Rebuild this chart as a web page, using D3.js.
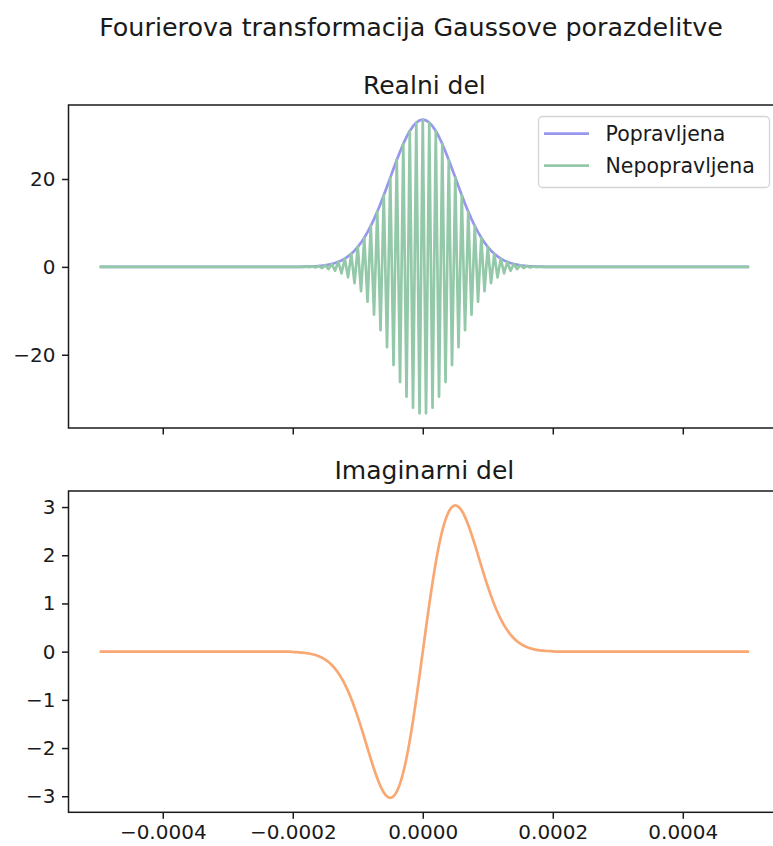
<!DOCTYPE html>
<html>
<head>
<meta charset="utf-8">
<script src="https://cdn.jsdelivr.net/npm/d3@7"></script>
<style>
  body { margin: 0; background: #ffffff; }
  svg { display: block; }
  text { font-family: "DejaVu Sans", sans-serif; fill: #1a1a1a; }
</style>
</head>
<body>
<svg id="chart" width="773" height="846"></svg>
<script>
// Frequency grid: 200 samples from -0.000495 to 0.0005
const freqStart = -0.000495;
const freqStep = 0.000005;

const zeros59 = [
  0,0,0,0,0,0,0,0,0,0,0,0,0,0,0,0,0,0,0,0,
  0,0,0,0,0,0,0,0,0,0,0,0,0,0,0,0,0,0,0,0,
  0,0,0,0,0,0,0,0,0,0,0,0,0,0,0,0,0,0,0
];
const zeros60 = [
  0,0,0,0,0,0,0,0,0,0,0,0,0,0,0,0,0,0,0,0,
  0,0,0,0,0,0,0,0,0,0,0,0,0,0,0,0,0,0,0,0,
  0,0,0,0,0,0,0,0,0,0,0,0,0,0,0,0,0,0,0,0
];

// Real part, corrected transform (Popravljena)
const realCorrected = [].concat(zeros59, [
  0.01,0.02,0.02,0.04,0.05,0.07,0.10,0.14,0.20,0.27,
  0.37,0.50,0.66,0.88,1.14,1.47,1.88,2.38,2.98,3.69,
  4.53,5.51,6.63,7.90,9.31,10.88,12.57,14.39,16.31,18.29,
  20.32,22.34,24.33,26.22,27.98,29.56,30.92,32.03,32.84,33.33,
  33.50,
  33.33,32.84,32.03,30.92,29.56,27.98,26.22,24.33,22.34,20.32,
  18.29,16.31,14.39,12.57,10.88,9.31,7.90,6.63,5.51,4.53,
  3.69,2.98,2.38,1.88,1.47,1.14,0.88,0.66,0.50,0.37,
  0.27,0.20,0.14,0.10,0.07,0.05,0.04,0.02,0.02,0.01
], zeros60);

// Real part, uncorrected transform (Nepopravljena)
const realUncorrected = [].concat(zeros59, [
  0.01,-0.02,0.02,-0.04,0.05,-0.07,0.10,-0.14,0.20,-0.27,
  0.37,-0.50,0.66,-0.88,1.14,-1.47,1.88,-2.38,2.98,-3.69,
  4.53,-5.51,6.63,-7.90,9.31,-10.88,12.57,-14.39,16.31,-18.29,
  20.32,-22.34,24.33,-26.22,27.98,-29.56,30.92,-32.03,32.84,-33.33,
  33.50,
  -33.33,32.84,-32.03,30.92,-29.56,27.98,-26.22,24.33,-22.34,20.32,
  -18.29,16.31,-14.39,12.57,-10.88,9.31,-7.90,6.63,-5.51,4.53,
  -3.69,2.98,-2.38,1.88,-1.47,1.14,-0.88,0.66,-0.50,0.37,
  -0.27,0.20,-0.14,0.10,-0.07,0.05,-0.04,0.02,-0.02,0.01
], zeros60);

// Imaginary part
const imagPart = [].concat(zeros59, [
  -0.007,-0.010,-0.014,-0.020,-0.028,-0.038,-0.053,-0.071,-0.096,-0.127,
  -0.167,-0.216,-0.278,-0.353,-0.443,-0.549,-0.674,-0.817,-0.978,-1.158,
  -1.353,-1.562,-1.781,-2.004,-2.224,-2.435,-2.627,-2.792,-2.921,-3.003,
  -3.033,-3.001,-2.905,-2.739,-2.506,-2.206,-1.846,-1.434,-0.980,-0.498,
  0,
  0.498,0.980,1.434,1.846,2.206,2.506,2.739,2.905,3.001,3.033,
  3.003,2.921,2.792,2.627,2.435,2.224,2.004,1.781,1.562,1.353,
  1.158,0.978,0.817,0.674,0.549,0.443,0.353,0.278,0.216,0.167,
  0.127,0.096,0.071,0.053,0.038,0.028,0.020,0.014,0.010,0.007
], zeros60);

const xTicks = [-0.0004, -0.0002, 0, 0.0002, 0.0004];
const realTicks = [-20, 0, 20];
const imagTicks = [-3, -2, -1, 0, 1, 2, 3];
const legendLabels = ["Popravljena", "Nepopravljena"];

const colors = { corrected: "#9797ee", uncorrected: "#93c9a9", imag: "#f9a873" };

const svg = d3.select("#chart");
const plotLeft = 68.5, plotRight = 780.3;
const topPanel = { top: 105, bottom: 428 };
const botPanel = { top: 491, bottom: 812.3 };

const x = d3.scaleLinear().domain([-0.000545, 0.00055]).range([plotLeft, plotRight]);
const yReal = d3.scaleLinear().domain([-36.67, 36.84]).range([topPanel.bottom, topPanel.top]);
const yImag = d3.scaleLinear().domain([-3.333, 3.333]).range([botPanel.bottom, botPanel.top]);

const freqAt = i => freqStart + i * freqStep;

function styleAxis(g) {
  g.select(".domain").remove();
  g.attr("font-family", "DejaVu Sans, sans-serif").attr("font-size", 20);
  g.selectAll(".tick line").attr("stroke", "#1a1a1a").attr("stroke-width", 1.5);
  g.selectAll(".tick text").attr("fill", "#1a1a1a");
}

function frame(panel) {
  svg.append("rect")
    .attr("x", plotLeft).attr("y", panel.top)
    .attr("width", plotRight - plotLeft).attr("height", panel.bottom - panel.top)
    .attr("fill", "none").attr("stroke", "#1a1a1a").attr("stroke-width", 1.5);
}

function seriesPath(values, yScale, color, curve) {
  const line = d3.line().x((d, i) => x(freqAt(i))).y(d => yScale(d));
  if (curve) line.curve(curve);
  svg.append("path")
    .datum(values)
    .attr("fill", "none")
    .attr("stroke", color)
    .attr("stroke-width", 2.7)
    .attr("stroke-linejoin", "round")
    .attr("stroke-linecap", "square")
    .attr("d", line);
}

// ---- Top panel: real part ----
seriesPath(realCorrected, yReal, colors.corrected);
seriesPath(realUncorrected, yReal, colors.uncorrected);

frame(topPanel);

svg.append("g")
  .attr("transform", `translate(${plotLeft},0)`)
  .call(d3.axisLeft(yReal).tickValues(realTicks).tickSize(6.5).tickPadding(6.5).tickFormat(d3.format("d")))
  .call(styleAxis);

svg.append("g")
  .attr("transform", `translate(0,${topPanel.bottom})`)
  .call(d3.axisBottom(x).tickValues(xTicks).tickSize(6.5).tickFormat(""))
  .call(styleAxis);

svg.append("text")
  .attr("x", (plotLeft + plotRight) / 2).attr("y", topPanel.top - 11)
  .attr("text-anchor", "middle").attr("font-size", 25)
  .text("Realni del");

// Legend
const legend = svg.append("g");
legend.append("rect")
  .attr("x", 538.5).attr("y", 116.5).attr("width", 231).attr("height", 71)
  .attr("rx", 4).attr("fill", "#ffffff").attr("fill-opacity", 0.8)
  .attr("stroke", "#d4d4d4").attr("stroke-width", 1.3);
[colors.corrected, colors.uncorrected].forEach((c, i) => {
  const cy = 133.7 + i * 32;
  legend.append("line")
    .attr("x1", 544).attr("x2", 589).attr("y1", cy).attr("y2", cy)
    .attr("stroke", c).attr("stroke-width", 2.7);
  legend.append("text")
    .attr("x", 605.5).attr("y", cy + 7)
    .attr("font-size", 20.5)
    .text(legendLabels[i]);
});

// ---- Bottom panel: imaginary part ----
seriesPath(imagPart, yImag, colors.imag, d3.curveCatmullRom);

frame(botPanel);

svg.append("g")
  .attr("transform", `translate(${plotLeft},0)`)
  .call(d3.axisLeft(yImag).tickValues(imagTicks).tickSize(6.5).tickPadding(6.5).tickFormat(d3.format("d")))
  .call(styleAxis);

svg.append("g")
  .attr("transform", `translate(0,${botPanel.bottom})`)
  .call(d3.axisBottom(x).tickValues(xTicks).tickSize(6.5).tickPadding(6).tickFormat(d3.format(".4f")))
  .call(styleAxis);

svg.append("text")
  .attr("x", (plotLeft + plotRight) / 2).attr("y", botPanel.top - 12)
  .attr("text-anchor", "middle").attr("font-size", 25)
  .text("Imaginarni del");

// Figure title
svg.append("text")
  .attr("x", 411).attr("y", 36)
  .attr("text-anchor", "middle").attr("font-size", 25.4)
  .text("Fourierova transformacija Gaussove porazdelitve");
</script>
</body>
</html>
